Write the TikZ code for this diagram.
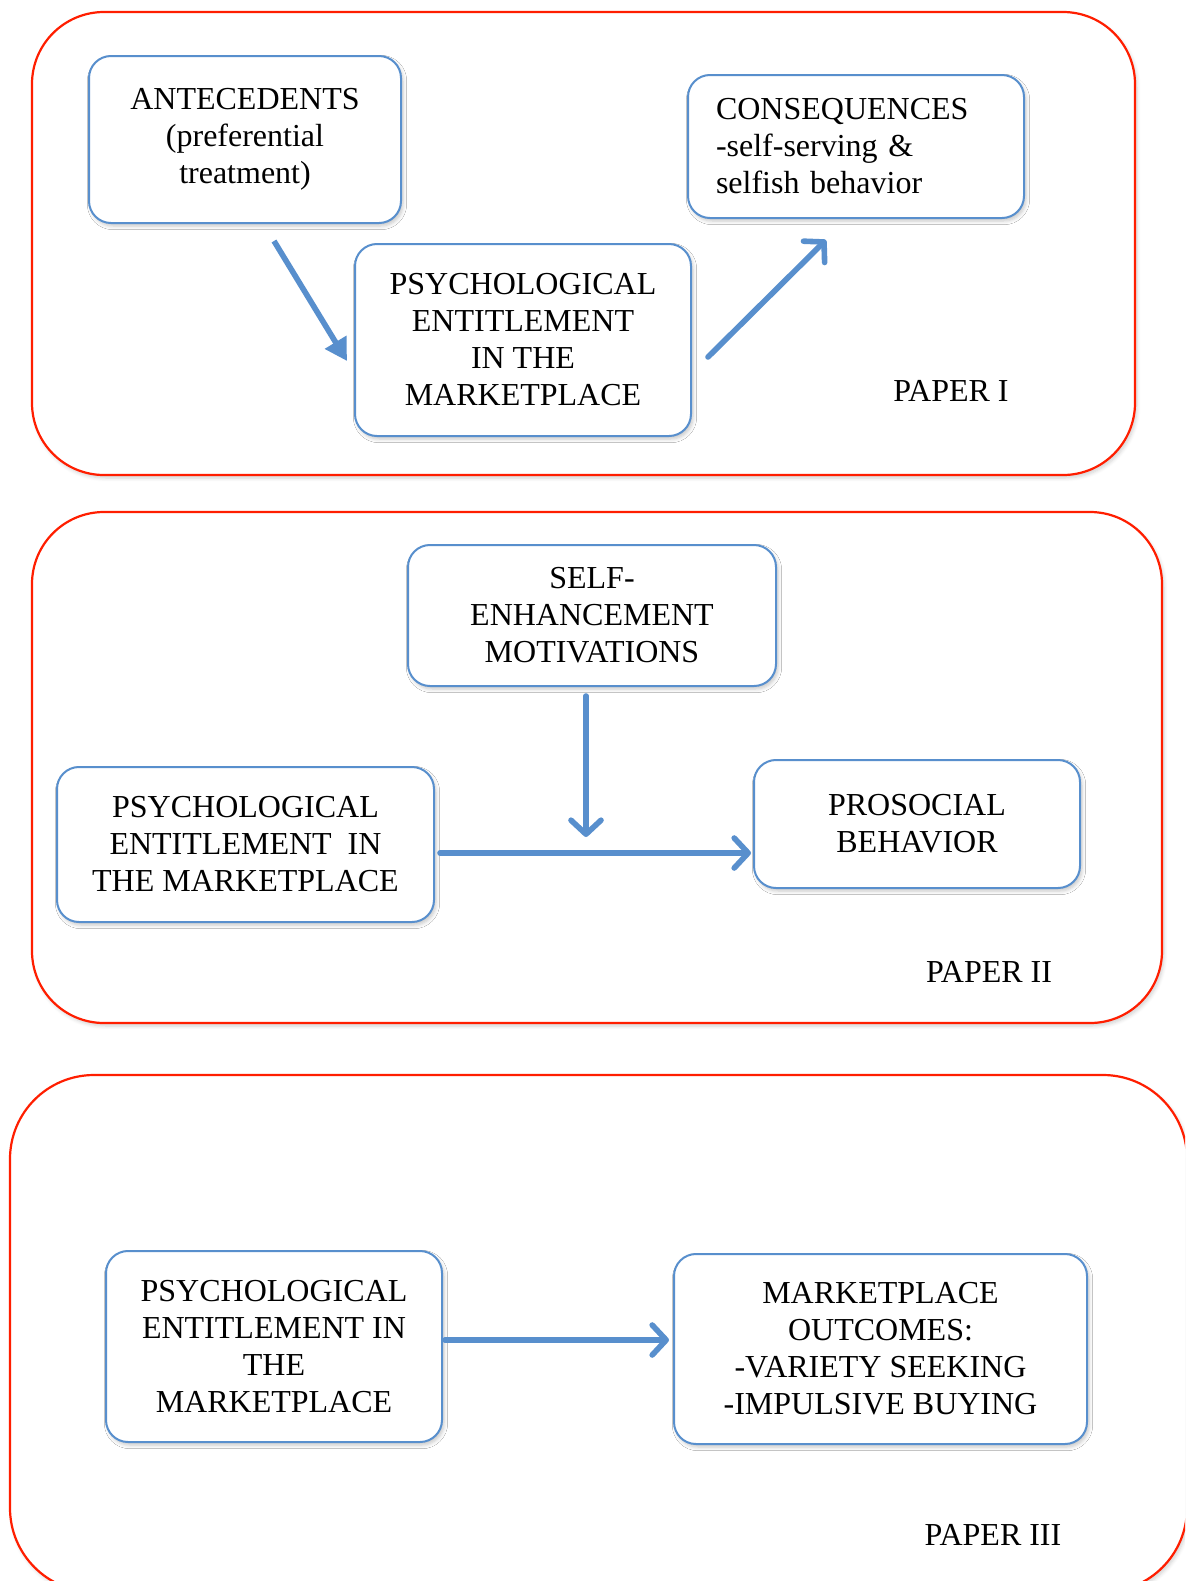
\documentclass[tikz,border=0pt]{standalone}
\usepackage{fontspec}
\setmainfont{Liberation Serif}
\usetikzlibrary{arrows.meta,shadows.blur}
\definecolor{BoxBlue} {RGB}{ 88,143,205}
\definecolor{PanelRed}{RGB}{255, 30,  0}
\tikzset{
  %% 外框（红色圆角）
  panel/.style={draw=PanelRed,fill=white,line width=1.1pt,rounded corners=36pt,
                blur shadow={shadow xshift=1pt,shadow yshift=-1.5pt,
                             shadow blur steps=5,shadow opacity=18}},
  %% 概念方框（蓝色圆角）
  cbox/.style={rectangle,rounded corners=11pt,draw=BoxBlue,line width=1pt,
               fill=white,align=center,inner sep=0pt,
               font=\rmfamily\fontsize{16}{18.5}\selectfont,
               blur shadow={shadow xshift=1pt,shadow yshift=-1.5pt,
                            shadow blur steps=5,shadow opacity=22}},
  papertag/.style={font=\rmfamily\fontsize{16}{18.5}\selectfont},
  %% 箭头
  carr/.style={-{Triangle[length=11pt,width=12pt]},line width=2.8pt,color=BoxBlue},
  oarr/.style={-{Straight Barb[length=7pt,width=15pt,round]},line width=2.8pt,
               color=BoxBlue,line cap=round},
}
\begin{document}
\begin{tikzpicture}[x=0.5pt,y=-0.5pt]
  \useasboundingbox (0,0) rectangle (1185,1581);
  \clip (0,0) rectangle (1185,1581);

  %% PAPER I
  \draw[panel] (32,12) rectangle (1135,475);
  \node[cbox,minimum width=156pt,minimum height=83.5pt] (ANT) at (245,139.5)
       {ANTECEDENTS\\(preferential\\treatment)};
  \node[cbox,minimum width=168pt,minimum height=96pt] (PE1) at (523,340)
       {PSYCHOLOGICAL\\ENTITLEMENT\\IN THE\\MARKETPLACE};
  \node[cbox,align=left,text width=140pt,inner xsep=14pt,minimum height=71.5pt]
       (CON) at (856,146.5)
       {CONSEQUENCES\\-self-serving \&\\selfish behavior};
  \node[papertag] (P1) at (951,391) {PAPER I};

  \draw[carr] ([shift={(29,17)}]ANT.south) -- ([shift={(-7,21)}]PE1.west);
  \draw[oarr] ([shift={(16,17)}]PE1.east) -- ([shift={(-30,21)}]CON.south);

  %% PAPER II
  \draw[panel] (32,512) rectangle (1162,1023);
  \node[cbox,minimum width=184pt,minimum height=70.5pt] (SEM) at (592,615.5)
       {SELF-\\ENHANCEMENT\\MOTIVATIONS};
  \node[cbox,minimum width=188.5pt,minimum height=77.5pt] (PE2) at (245.5,844.5)
       {PSYCHOLOGICAL\\ENTITLEMENT~~IN\\THE MARKETPLACE};
  \node[cbox,minimum width=163pt,minimum height=64pt] (PRO) at (917,824)
       {PROSOCIAL\\BEHAVIOR};
  \node[papertag] (P2) at (989,972) {PAPER II};

  \draw[oarr] ([shift={(-6,9)}]SEM.south) -- ([shift={(-6,150)}]SEM.south);
  \draw[oarr] ([shift={(5,8.5)}]PE2.east) -- ([shift={(-2,29)}]PRO.west);

  %% PAPER III
  \draw[panel,rounded corners=42pt] (10,1075) rectangle (1187,1592);
  \node[cbox,minimum width=168pt,minimum height=95.5pt] (PE3) at (274,1346.5)
       {PSYCHOLOGICAL\\ENTITLEMENT IN\\THE\\MARKETPLACE};
  \node[cbox,minimum width=206.5pt,minimum height=95pt] (MKT) at (880.5,1349)
       {MARKETPLACE\\OUTCOMES:\\-VARIETY SEEKING\\-IMPULSIVE BUYING};
  \node[papertag] (P3) at (993,1535) {PAPER III};

  \draw[oarr] ([shift={(2,-6.5)}]PE3.east) -- ([shift={(-4,-9)}]MKT.west);
\end{tikzpicture}
\end{document}
